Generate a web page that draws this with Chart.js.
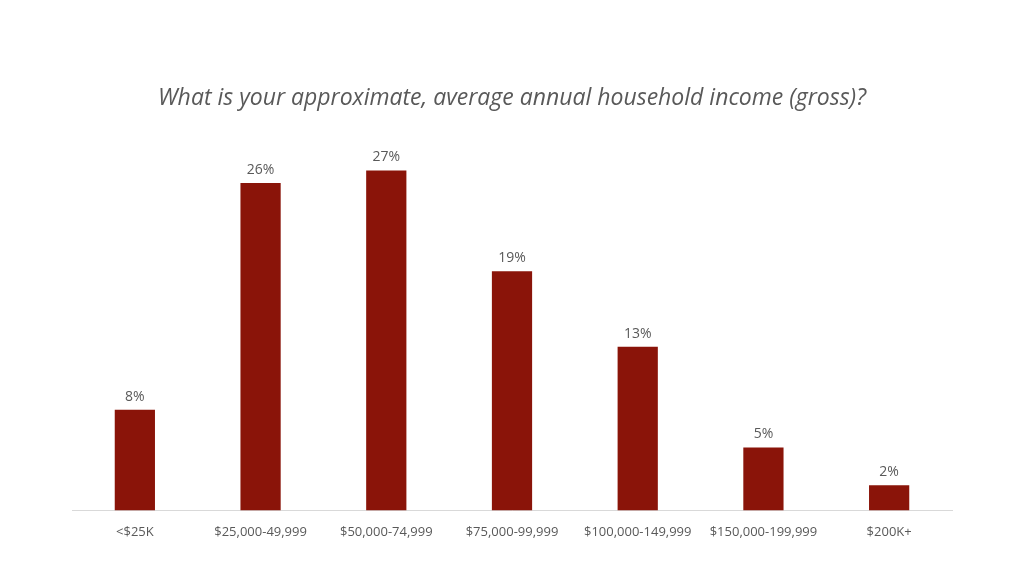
<!DOCTYPE html>
<html>
<head>
<meta charset="utf-8">
<script src="https://cdn.jsdelivr.net/npm/chart.js@4"></script>
<style>
  html, body { margin: 0; padding: 0; background: #fff; }
  #wrap { width: 1024px; height: 576px; }
</style>
</head>
<body>
<div id="wrap"><canvas id="incomeChart" width="1024" height="576"></canvas></div>
<script>
// Dados do gráfico
const categories = ['<$25K', '$25,000-49,999', '$50,000-74,999', '$75,000-99,999', '$100,000-149,999', '$150,000-199,999', '$200K+'];
const shares = [8, 26, 27, 19, 13, 5, 2];
const yTicks = [0, 30];

// Rótulos acima das barras
const barLabels = {
  id: 'barLabels',
  afterDatasetsDraw(chart) {
    const ctx = chart.ctx;
    const meta = chart.getDatasetMeta(0);
    ctx.save();
    ctx.font = '14px "Open Sans", sans-serif';
    ctx.fillStyle = '#595959';
    ctx.textAlign = 'center';
    ctx.textBaseline = 'bottom';
    meta.data.forEach((bar, i) => {
      ctx.fillText(shares[i] + '%', bar.x, bar.y - 6);
    });
    ctx.restore();
  }
};

const incomeChart = new Chart(document.getElementById('incomeChart'), {
  type: 'bar',
  data: {
    labels: categories,
    datasets: [
      {
        data: shares,
        backgroundColor: '#8a1409',
        categoryPercentage: 1,
        barPercentage: 0.32
      }
    ]
  },
  options: {
    responsive: false,
    animation: false,
    layout: { padding: { left: 72, right: 72, top: 0, bottom: 22 } },
    plugins: {
      legend: { display: false },
      tooltip: { enabled: false },
      title: {
        display: true,
        text: 'What is your approximate, average annual household income (gross)?',
        color: '#595959',
        font: { family: '"Open Sans", sans-serif', size: 23, style: 'italic', weight: 'normal', lineHeight: 1.2 },
        padding: { top: 85, bottom: 20 }
      }
    },
    scales: {
      x: {
        grid: { display: false, drawTicks: false },
        border: { display: true, color: '#d9d9d9', width: 1 },
        ticks: { color: '#595959', font: { family: '"Open Sans", sans-serif', size: 13 }, padding: 14 }
      },
      y: {
        display: false,
        min: yTicks[0],
        max: yTicks[1]
      }
    }
  },
  plugins: [barLabels]
});
</script>
</body>
</html>
